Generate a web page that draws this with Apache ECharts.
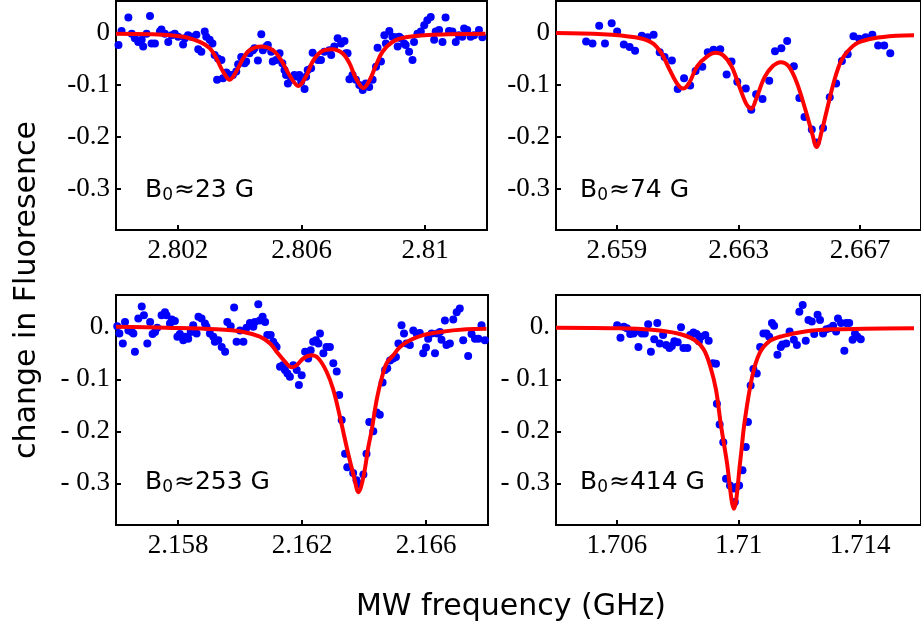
<!DOCTYPE html>
<html><head><meta charset="utf-8">
<script src="https://cdn.jsdelivr.net/npm/echarts@6/dist/echarts.min.js"></script>
<style>html,body{margin:0;padding:0;background:#fff}#c{width:921px;height:630px}</style>
</head><body><div id="c"></div>
<script>
// ---------- data ----------
const p1Points = [[2.80008,-0.023],[2.80018,0.004],[2.80040,0.030],[2.80051,-0.001],[2.80061,-0.010],[2.80072,-0.017],[2.80083,-0.013],[2.80088,-0.026],[2.80099,-0.001],[2.80110,0.033],[2.80115,-0.020],[2.80126,-0.020],[2.80142,0.003],[2.80147,0.007],[2.80158,-0.001],[2.80169,-0.017],[2.80180,-0.004],[2.80190,-0.001],[2.80201,-0.007],[2.80217,-0.022],[2.80223,-0.010],[2.80233,-0.004],[2.80244,-0.007],[2.80260,-0.003],[2.80266,-0.031],[2.80276,-0.036],[2.80287,0.003],[2.80292,-0.007],[2.80303,-0.013],[2.80312,-0.020],[2.80319,-0.042],[2.80330,-0.049],[2.80341,-0.052],[2.80327,-0.090],[2.80346,-0.087],[2.80357,-0.076],[2.80368,-0.081],[2.80378,-0.081],[2.80389,-0.074],[2.80395,-0.060],[2.80405,-0.046],[2.80416,-0.058],[2.80421,-0.055],[2.80432,-0.039],[2.80443,-0.033],[2.80448,-0.029],[2.80459,-0.053],[2.80470,-0.002],[2.80475,-0.033],[2.80486,-0.026],[2.80491,-0.023],[2.80502,-0.036],[2.80507,-0.055],[2.80518,-0.052],[2.80529,-0.039],[2.80538,-0.058],[2.80545,-0.071],[2.80550,-0.081],[2.80556,-0.097],[2.80567,-0.090],[2.80577,-0.081],[2.80588,-0.084],[2.80593,-0.081],[2.80599,-0.094],[2.80610,-0.108],[2.80615,-0.084],[2.80620,-0.071],[2.80631,-0.068],[2.80636,-0.038],[2.80653,-0.052],[2.80663,-0.052],[2.80674,-0.036],[2.80690,-0.033],[2.80696,-0.042],[2.80706,-0.026],[2.80717,-0.010],[2.80728,-0.020],[2.80739,-0.015],[2.80744,-0.039],[2.80749,-0.039],[2.80755,-0.089],[2.80765,-0.081],[2.80776,-0.090],[2.80787,-0.100],[2.80798,-0.110],[2.80808,-0.097],[2.80819,-0.104],[2.80830,-0.090],[2.80841,-0.065],[2.80846,-0.028],[2.80857,-0.055],[2.80868,-0.004],[2.80873,-0.020],[2.80884,0.004],[2.80894,-0.007],[2.80905,-0.008],[2.80911,-0.026],[2.80916,-0.007],[2.80921,-0.010],[2.80932,-0.020],[2.80937,-0.023],[2.80948,-0.036],[2.80959,-0.052],[2.80964,-0.017],[2.80975,-0.001],[2.80986,0.003],[2.80997,0.015],[2.81007,0.025],[2.81018,0.031],[2.81029,-0.013],[2.81034,0.003],[2.81045,0.006],[2.81056,-0.017],[2.81066,0.030],[2.81077,0.004],[2.81088,0.003],[2.81099,-0.017],[2.81109,-0.004],[2.81120,-0.007],[2.81126,0.009],[2.81136,0.006],[2.81147,-0.007],[2.81158,-0.004],[2.81174,0.006],[2.81185,-0.008]];
const p1Fit = [[2.80000,-0.001],[2.80110,-0.002],[2.80217,-0.007],[2.80271,-0.017],[2.80303,-0.029],[2.80325,-0.049],[2.80346,-0.074],[2.80368,-0.090],[2.80389,-0.074],[2.80411,-0.049],[2.80432,-0.033],[2.80470,-0.026],[2.80507,-0.033],[2.80534,-0.052],[2.80561,-0.081],[2.80590,-0.102],[2.80615,-0.083],[2.80636,-0.055],[2.80663,-0.036],[2.80699,-0.031],[2.80733,-0.039],[2.80755,-0.058],[2.80776,-0.087],[2.80800,-0.106],[2.80821,-0.090],[2.80841,-0.062],[2.80862,-0.036],[2.80894,-0.017],[2.80937,-0.008],[2.81023,-0.003],[2.81195,-0.001]];

const p2Points = [[2.65799,-0.016],[2.65820,-0.020],[2.65842,0.014],[2.65861,-0.020],[2.65883,0.019],[2.65901,0.003],[2.65923,-0.022],[2.65942,-0.027],[2.65960,-0.034],[2.65982,-0.005],[2.66001,-0.008],[2.66021,-0.003],[2.66041,-0.037],[2.66057,-0.046],[2.66081,-0.053],[2.66100,-0.108],[2.66121,-0.087],[2.66141,-0.101],[2.66159,-0.073],[2.66181,-0.065],[2.66199,-0.037],[2.66218,-0.032],[2.66240,-0.031],[2.66261,-0.080],[2.66277,-0.055],[2.66296,-0.094],[2.66324,-0.107],[2.66342,-0.148],[2.66358,-0.118],[2.66379,-0.127],[2.66401,-0.092],[2.66420,-0.035],[2.66441,-0.029],[2.66460,-0.015],[2.66482,-0.064],[2.66500,-0.125],[2.66517,-0.162],[2.66541,-0.186],[2.66557,-0.211],[2.66578,-0.183],[2.66600,-0.124],[2.66621,-0.097],[2.66640,-0.054],[2.66659,-0.041],[2.66678,-0.006],[2.66697,-0.011],[2.66718,-0.008],[2.66740,-0.003],[2.66759,-0.024],[2.66779,-0.024],[2.66799,-0.039]];
const p2Fit = [[2.65700,0.000],[2.65853,-0.002],[2.65960,-0.008],[2.66014,-0.018],[2.66046,-0.038],[2.66073,-0.070],[2.66100,-0.099],[2.66118,-0.107],[2.66138,-0.096],[2.66164,-0.064],[2.66197,-0.045],[2.66224,-0.038],[2.66250,-0.043],[2.66277,-0.064],[2.66304,-0.105],[2.66326,-0.137],[2.66342,-0.146],[2.66358,-0.127],[2.66385,-0.086],[2.66412,-0.064],[2.66439,-0.056],[2.66465,-0.064],[2.66492,-0.096],[2.66519,-0.146],[2.66541,-0.191],[2.66557,-0.220],[2.66573,-0.191],[2.66594,-0.140],[2.66616,-0.089],[2.66637,-0.054],[2.66659,-0.035],[2.66691,-0.019],[2.66745,-0.010],[2.66820,-0.005],[2.66877,-0.004]];

const p3Points = [[2.15604,0.002],[2.15611,-0.012],[2.15622,-0.031],[2.15629,0.010],[2.15640,-0.006],[2.15651,-0.009],[2.15656,-0.012],[2.15661,-0.047],[2.15672,0.017],[2.15683,0.040],[2.15690,0.023],[2.15701,-0.031],[2.15710,0.010],[2.15718,-0.013],[2.15726,-0.009],[2.15733,-0.001],[2.15747,0.023],[2.15758,0.029],[2.15763,0.023],[2.15774,0.007],[2.15780,0.015],[2.15790,0.012],[2.15798,-0.018],[2.15806,-0.013],[2.15817,-0.025],[2.15823,-0.018],[2.15833,-0.022],[2.15841,-0.009],[2.15849,0.004],[2.15860,-0.012],[2.15866,0.020],[2.15876,0.017],[2.15887,0.007],[2.15892,0.001],[2.15903,-0.012],[2.15914,-0.018],[2.15919,-0.028],[2.15930,-0.025],[2.15941,-0.038],[2.15952,-0.047],[2.15959,0.010],[2.15970,0.002],[2.15981,0.038],[2.15989,-0.028],[2.16000,-0.006],[2.16011,-0.028],[2.16021,-0.001],[2.16032,0.008],[2.16043,0.001],[2.16048,0.010],[2.16059,0.044],[2.16064,0.013],[2.16073,0.020],[2.16081,0.010],[2.16088,-0.015],[2.16099,-0.015],[2.16107,-0.028],[2.16113,-0.034],[2.16118,-0.038],[2.16129,-0.076],[2.16138,-0.073],[2.16145,-0.082],[2.16153,-0.089],[2.16161,-0.095],[2.16172,-0.073],[2.16183,-0.082],[2.16190,-0.111],[2.16199,-0.092],[2.16210,-0.047],[2.16220,-0.060],[2.16228,-0.044],[2.16236,-0.028],[2.16245,-0.025],[2.16253,-0.031],[2.16258,-0.012],[2.16269,-0.050],[2.16279,-0.038],[2.16290,-0.038],[2.16301,-0.069],[2.16312,-0.085],[2.16320,-0.130],[2.16328,-0.178],[2.16339,-0.243],[2.16346,-0.269],[2.16365,-0.280],[2.16376,-0.294],[2.16382,-0.301],[2.16398,-0.283],[2.16408,-0.243],[2.16417,-0.182],[2.16430,-0.200],[2.16441,-0.164],[2.16451,-0.168],[2.16460,-0.106],[2.16468,-0.082],[2.16475,-0.079],[2.16484,-0.064],[2.16494,-0.060],[2.16503,-0.057],[2.16511,-0.031],[2.16521,0.004],[2.16529,-0.012],[2.16537,-0.031],[2.16548,-0.034],[2.16559,-0.006],[2.16570,-0.012],[2.16580,-0.011],[2.16591,-0.050],[2.16600,-0.039],[2.16607,-0.022],[2.16618,-0.012],[2.16629,-0.050],[2.16636,-0.012],[2.16645,-0.009],[2.16650,-0.024],[2.16661,0.013],[2.16666,-0.034],[2.16677,-0.031],[2.16688,0.015],[2.16699,0.029],[2.16709,0.036],[2.16720,-0.025],[2.16736,-0.055],[2.16747,-0.013],[2.16758,-0.022],[2.16769,-0.022],[2.16779,0.004],[2.16790,-0.025]];
const p3Fit = [[2.15600,0.001],[2.15763,-0.001],[2.15925,-0.004],[2.16011,-0.009],[2.16064,-0.018],[2.16097,-0.031],[2.16118,-0.047],[2.16145,-0.066],[2.16167,-0.077],[2.16183,-0.073],[2.16204,-0.060],[2.16231,-0.054],[2.16253,-0.060],[2.16279,-0.085],[2.16301,-0.120],[2.16322,-0.171],[2.16349,-0.243],[2.16368,-0.288],[2.16382,-0.317],[2.16398,-0.288],[2.16414,-0.230],[2.16425,-0.197],[2.16441,-0.139],[2.16457,-0.098],[2.16473,-0.069],[2.16494,-0.054],[2.16516,-0.038],[2.16548,-0.025],[2.16591,-0.015],[2.16645,-0.009],[2.16731,-0.004],[2.16795,-0.003]];

const p4Points = [[1.70601,0.004],[1.70612,-0.020],[1.70623,0.001],[1.70633,-0.002],[1.70644,-0.013],[1.70655,-0.012],[1.70660,-0.008],[1.70671,-0.038],[1.70682,-0.012],[1.70692,-0.012],[1.70703,0.006],[1.70712,-0.047],[1.70723,-0.023],[1.70733,0.008],[1.70741,-0.031],[1.70752,-0.015],[1.70762,-0.034],[1.70773,-0.040],[1.70781,-0.036],[1.70789,-0.027],[1.70800,-0.029],[1.70811,0.000],[1.70819,-0.040],[1.70832,-0.040],[1.70841,-0.015],[1.70852,-0.010],[1.70862,-0.013],[1.70870,-0.027],[1.70877,-0.018],[1.70891,-0.015],[1.70902,-0.026],[1.70916,-0.069],[1.70926,-0.070],[1.70929,-0.147],[1.70938,-0.187],[1.70950,-0.221],[1.70959,-0.291],[1.70972,-0.304],[1.70985,-0.310],[1.70988,-0.336],[1.70993,-0.307],[1.71002,-0.304],[1.71013,-0.275],[1.71024,-0.230],[1.71031,-0.182],[1.71040,-0.112],[1.71049,-0.080],[1.71060,-0.089],[1.71071,-0.038],[1.71082,-0.012],[1.71092,-0.012],[1.71101,-0.018],[1.71110,0.008],[1.71117,0.003],[1.71128,-0.053],[1.71139,-0.038],[1.71144,-0.033],[1.71157,-0.031],[1.71168,-0.008],[1.71182,-0.024],[1.71192,-0.034],[1.71200,0.030],[1.71211,0.043],[1.71221,-0.026],[1.71230,0.014],[1.71241,0.011],[1.71249,-0.013],[1.71260,0.024],[1.71268,0.014],[1.71278,-0.012],[1.71289,-0.004],[1.71300,-0.002],[1.71311,0.003],[1.71321,-0.008],[1.71327,0.017],[1.71337,0.008],[1.71348,-0.045],[1.71354,0.008],[1.71364,0.008],[1.71375,-0.024],[1.71383,-0.012],[1.71391,-0.018],[1.71402,-0.023]];
const p4Fit = [[1.70400,-0.001],[1.70606,-0.002],[1.70714,-0.005],[1.70800,-0.012],[1.70854,-0.024],[1.70886,-0.043],[1.70907,-0.075],[1.70926,-0.120],[1.70942,-0.187],[1.70961,-0.256],[1.70985,-0.349],[1.71006,-0.256],[1.71020,-0.182],[1.71045,-0.095],[1.71069,-0.050],[1.71101,-0.027],[1.71144,-0.017],[1.71219,-0.008],[1.71305,-0.004],[1.71413,-0.003],[1.71577,-0.002]];

const xRanges = [[2.800, 2.812], [2.657, 2.669], [2.156, 2.168], [1.704, 1.716]];
const xTickValues = [[2.802, 2.806, 2.810], [2.659, 2.663, 2.667], [2.158, 2.162, 2.166], [1.706, 1.710, 1.714]];
const xTickLabels = [['2.802', '2.806', '2.81'], ['2.659', '2.663', '2.667'], ['2.158', '2.162', '2.166'], ['1.706', '1.71', '1.714']];
const yTickValues = [0, -0.1, -0.2, -0.3];
const yTickLabelsTop = ['0', '-0.1', '-0.2', '-0.3'];
const yTickLabelsBottom = ['0.', '- 0.1', '- 0.2', '- 0.3'];
const fieldLabels = ['23 G', '74 G', '253 G', '414 G'];
const yRange = [-0.38, 0.062];

// ---------- chart ----------
const points = [p1Points, p2Points, p3Points, p4Points];
const fits = [p1Fit, p2Fit, p3Fit, p4Fit];
const grids = [
  {left: 116, top: 1, width: 371, height: 229},
  {left: 556, top: 1, width: 371, height: 229},
  {left: 116, top: 295, width: 372, height: 230},
  {left: 556, top: 295, width: 371, height: 230}
];
const labelPos = [[145, 194], [580, 194], [145, 486], [580, 486]];

function nearestLabel(vals, labels, v) {
  let bi = 0;
  for (let i = 1; i < vals.length; i++) if (Math.abs(vals[i] - v) < Math.abs(vals[bi] - v)) bi = i;
  return labels[bi];
}

const serif = '"Liberation Serif", "Times New Roman", serif';
const sans = '"DejaVu Sans", sans-serif';
const tickRich = {t: {color: '#000', fontFamily: serif, fontSize: 27, fontWeight: 'normal'}};

const option = {
  animation: false,
  backgroundColor: '#fff',
  textStyle: {fontFamily: serif, fontSize: 27},
  grid: grids.map(g => Object.assign({show: true, borderColor: '#000', borderWidth: 2, backgroundColor: 'transparent'}, g)),
  xAxis: grids.map((g, i) => ({
    type: 'value', gridIndex: i, min: xRanges[i][0], max: xRanges[i][1],
    axisLine: {show: true, onZero: false, lineStyle: {color: '#000', width: 2}},
    splitLine: {show: false},
    axisTick: {show: true, inside: true, length: 5, lineStyle: {color: '#000', width: 2}, customValues: xTickValues[i]},
    axisLabel: {show: true, customValues: xTickValues[i], margin: 7, color: '#000', fontFamily: serif, fontSize: 27, rich: tickRich,
      formatter: v => '{t|' + nearestLabel(xTickValues[i], xTickLabels[i], v) + '}'}
  })),
  yAxis: grids.map((g, i) => ({
    type: 'value', gridIndex: i, min: yRange[0], max: yRange[1],
    axisLine: {show: true, onZero: false, lineStyle: {color: '#000', width: 2}},
    splitLine: {show: false},
    axisTick: {show: true, inside: true, length: 5, lineStyle: {color: '#000', width: 2}, customValues: yTickValues},
    axisLabel: {show: true, customValues: yTickValues, margin: 6, color: '#000', fontFamily: serif, fontSize: 27, rich: tickRich,
      formatter: v => '{t|' + nearestLabel(yTickValues, i < 2 ? yTickLabelsTop : yTickLabelsBottom, v) + '}'}
  })),
  series: [].concat(
    points.map((d, i) => ({
      type: 'scatter', xAxisIndex: i, yAxisIndex: i, data: d, symbol: 'circle', symbolSize: 8,
      itemStyle: {color: '#0000ff', opacity: 1}, z: 2
    })),
    fits.map((d, i) => ({
      type: 'line', xAxisIndex: i, yAxisIndex: i, data: d, showSymbol: false, smooth: 0.35,
      lineStyle: {color: '#ff0000', width: 4}, z: 3
    }))
  ),
  graphic: [].concat(
    labelPos.map((p, i) => ({
      type: 'text', left: p[0], top: p[1] - 16, z: 10,
      style: {text: '{a|B}{s|0}{a|≈' + fieldLabels[i] + '}', rich: {
        a: {fontFamily: sans, fontSize: 25, fill: '#000', color: '#000'},
        s: {fontFamily: sans, fontSize: 17, fill: '#000', color: '#000', padding: [11, 1, 0, 0]}
      }}
    })),
    [{
      type: 'text', x: 511, y: 607, z: 10,
      style: {text: 'MW frequency (GHz)', font: '30px "DejaVu Sans"', fill: '#000', align: 'center', verticalAlign: 'middle'}
    }, {
      type: 'text', x: 27, y: 290, rotation: Math.PI / 2, z: 10,
      style: {text: 'change in Fluoresence', font: '30px "DejaVu Sans"', fill: '#000', align: 'center', verticalAlign: 'middle'}
    }]
  )
};
const chart = echarts.init(document.getElementById('c'), null, {renderer: 'canvas'});
chart.setOption(option);
</script>
</body></html>
